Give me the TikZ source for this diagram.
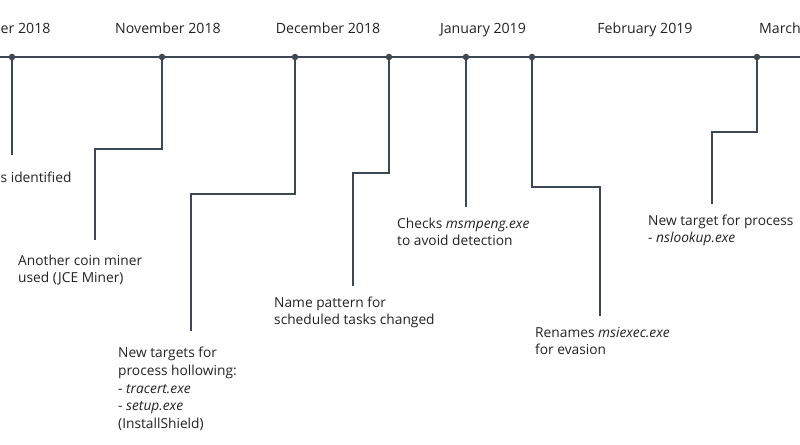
\documentclass[tikz,border=0pt]{standalone}
\usepackage{fontspec}
\setmainfont{Open Sans}
\definecolor{linec}{HTML}{3D4756}
\definecolor{textc}{HTML}{222222}
\begin{document}
\begin{tikzpicture}[x=1bp,y=-1bp,
  conn/.style={draw=linec,line width=1.8bp},
  dotc/.style={circle,fill=linec,inner sep=0pt,minimum size=6.5bp},
  month/.style={anchor=base,inner sep=0pt,text=textc,font=\fontsize{14.2}{16}\selectfont},
  lab/.style={anchor=base west,inner sep=0pt,text=textc,align=left,font=\fontsize{13.8}{17.8}\selectfont}]
\useasboundingbox (0,0) rectangle (800,445);
\clip (0,0) rectangle (800,445);
% timeline
\coordinate (tl) at (0,57);
\coordinate (tr) at (800,57);
\draw[conn] (tl) -- (tr);
% months
\node[month,anchor=base west] (moct) at (0.5,34) {er 2018};
\node[month] (mnov) at (168,34) {November 2018};
\node[month] (mdec) at (328,34) {December 2018};
\node[month] (mjan) at (483,34) {January 2019};
\node[month] (mfeb) at (645,34) {February 2019};
\node[month,anchor=base west] (mmar) at (759,34) {March};
% dots
\node[dotc] (d1) at (12,57) {};
\node[dotc] (d2) at (162,57) {};
\node[dotc] (d3) at (295,57) {};
\node[dotc] (d4) at (389,57) {};
\node[dotc] (d5) at (466,57) {};
\node[dotc] (d6) at (532,57) {};
\node[dotc] (d7) at (757,57) {};
% connector ends
\coordinate (e1) at (12,155);
\coordinate (e2) at (95,240);
\coordinate (e3) at (191,331);
\coordinate (e4) at (353,286);
\coordinate (e5) at (466,207);
\coordinate (e6) at (600,316);
\coordinate (e7) at (712,204);
\draw[conn] (d1.center) -- (e1);
\draw[conn] (d2.center) |- (95,149) -- (e2);
\draw[conn] (d3.center) |- (191,194) -- (e3);
\draw[conn] (d4.center) |- (353,173) -- (e4);
\draw[conn] (d5.center) -- (e5);
\draw[conn] (d6.center) |- (600,187) -- (e6);
\draw[conn] (d7.center) |- (712,132) -- (e7);
% labels (anchored at the baseline of the last line)
\node[lab] (t1) at (0.5,183) {s identified};
\node[lab] (t2) at (18,282.8) {Another coin miner\\used (JCE Miner)};
\node[lab] (t3) at (118,428.5) {New targets for\\process hollowing:\\- \textit{tracert.exe}\\- \textit{setup.exe}\\(InstallShield)};
\node[lab] (t4) at (274,324.8) {Name pattern for\\scheduled tasks changed};
\node[lab] (t5) at (397,245.8) {Checks \textit{msmpeng.exe}\\to avoid detection};
\node[lab] (t6) at (535,354.8) {Renames \textit{msiexec.exe}\\for evasion};
\node[lab] (t7) at (648,242.8) {New target for process\\- \textit{nslookup.exe}};
\end{tikzpicture}
\end{document}
